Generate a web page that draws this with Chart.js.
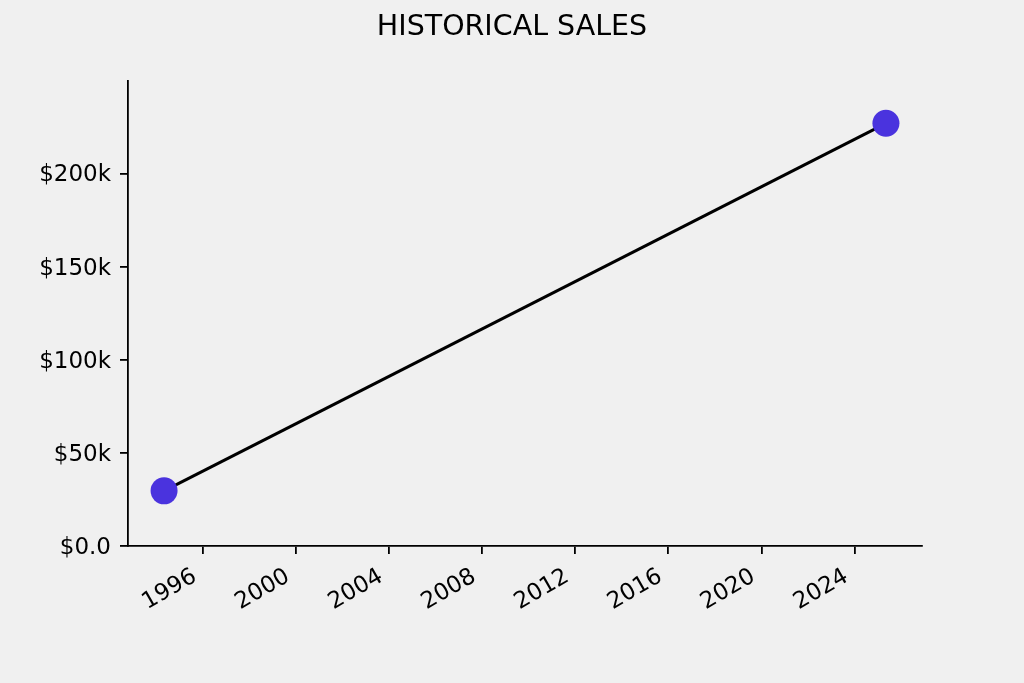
<!DOCTYPE html>
<html>
<head>
<meta charset="utf-8">
<script src="https://cdn.jsdelivr.net/npm/chart.js@4"></script>
<style>
  html, body { margin: 0; padding: 0; background: #f0f0f0; }
  #wrap { width: 1024px; height: 683px; }
</style>
</head>
<body>
<div id="wrap"><canvas id="c" width="1024" height="683"></canvas></div>
<script>
const titleText = 'HISTORICAL SALES';
const years = [1994.33, 2025.35];
const sales = [29600, 226900];
const xTicks = [1996, 2000, 2004, 2008, 2012, 2016, 2020, 2024];
const yTicks = [0, 50000, 100000, 150000, 200000];
const yTickLabels = ['$0.0', '$50k', '$100k', '$150k', '$200k'];
const xMin = 1992.78, xMax = 2026.9;
const yMin = 0, yMax = 249600;

const FONT = 'DejaVu Sans';
const points = years.map((y, i) => ({ x: y, y: sales[i] }));

new Chart(document.getElementById('c'), {
  type: 'line',
  data: {
    datasets: [{
      data: points,
      borderColor: '#000000',
      borderWidth: 3,
      pointRadius: 13.5,
      pointHoverRadius: 13.5,
      pointBackgroundColor: '#4a33de',
      pointBorderColor: '#4a33de',
      pointBorderWidth: 0,
      tension: 0,
      clip: false
    }]
  },
  options: {
    responsive: false,
    animation: false,
    devicePixelRatio: 1,
    layout: { padding: { left: 0, right: 0, top: 0, bottom: 0 } },
    plugins: {
      legend: { display: false },
      tooltip: { enabled: false },
      title: {
        display: true,
        text: titleText,
        color: '#000000',
        font: { family: FONT, size: 28.5, weight: 'normal' },
        padding: { top: 10, bottom: 36.8 }
      }
    },
    scales: {
      x: {
        type: 'linear',
        position: 'bottom',
        min: xMin,
        max: xMax,
        afterBuildTicks: s => { s.ticks = xTicks.map(v => ({ value: v })); },
        afterFit: s => { s.height = 137; },
        ticks: {
          autoSkip: false,
          minRotation: 30,
          maxRotation: 30,
          padding: 9,
          labelOffset: -8,
          color: '#000000',
          font: { family: FONT, size: 23 },
          callback: v => String(v)
        },
        grid: {
          display: true,
          drawOnChartArea: false,
          drawTicks: true,
          tickLength: 8,
          color: '#000000',
          lineWidth: 1.8
        },
        border: { display: true, color: '#000000', width: 1.8 }
      },
      y: {
        type: 'linear',
        position: 'left',
        min: yMin,
        max: yMax,
        afterBuildTicks: s => { s.ticks = yTicks.map(v => ({ value: v })); },
        afterFit: s => { s.width = 128; },
        ticks: {
          padding: 9,
          labelOffset: 2,
          color: '#000000',
          font: { family: FONT, size: 23 },
          callback: (v) => { const i = yTicks.indexOf(v); return i >= 0 ? yTickLabels[i] : ''; }
        },
        grid: {
          display: true,
          drawOnChartArea: false,
          drawTicks: true,
          tickLength: 8,
          color: '#000000',
          lineWidth: 1.8
        },
        border: { display: true, color: '#000000', width: 1.8 }
      },
      rightSpacer: {
        type: 'linear',
        position: 'right',
        display: true,
        afterFit: s => { s.width = 102; },
        ticks: { display: false },
        grid: { display: false, drawTicks: false },
        border: { display: false }
      }
    }
  }
});
</script>
</body>
</html>
